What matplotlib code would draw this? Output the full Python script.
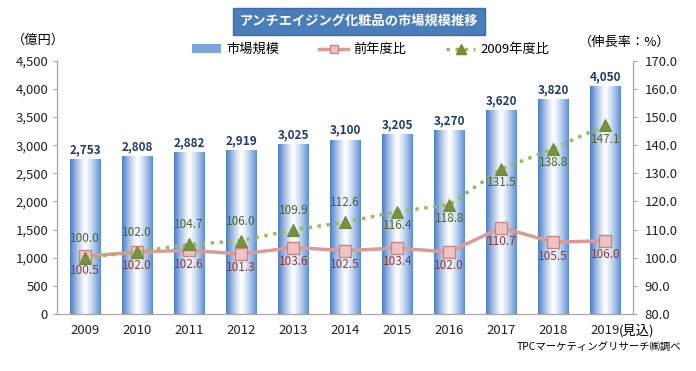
import matplotlib
matplotlib.use("Agg")
import matplotlib.pyplot as plt
from matplotlib.patches import Patch
from matplotlib.lines import Line2D
import numpy as np

plt.rcParams['font.family'] = ['Noto Sans CJK JP', 'DejaVu Sans']

# data
years = ['2009', '2010', '2011', '2012', '2013', '2014', '2015', '2016', '2017', '2018', '2019']
market = [2753, 2808, 2882, 2919, 3025, 3100, 3205, 3270, 3620, 3820, 4050]
yoy = [100.5, 102.0, 102.6, 101.3, 103.6, 102.5, 103.4, 102.0, 110.7, 105.5, 106.0]
vs2009 = [100.0, 102.0, 104.7, 106.0, 109.9, 112.6, 116.4, 118.8, 131.5, 138.8, 147.1]
# label above (True) or below (False) the green marker
vs2009_above = [True, True, True, True, True, True, False, False, False, False, False]

fig = plt.figure(figsize=(6.96, 3.71), dpi=100)
ax = fig.add_axes([0.082, 0.154, 0.828, 0.682])
x = np.arange(len(years))
w = 0.58

# gradient bars
bars = ax.bar(x, market, w, color='none', edgecolor='none', zorder=1)
edge_l = np.array([0.30, 0.50, 0.78])
edge_r = np.array([0.36, 0.56, 0.84])
white = np.array([1.0, 1.0, 1.0])
t = np.linspace(0, 1, 64)
c = 0.5
k = np.where(t < c, (c - t) / c, (t - c) / (1 - c)) ** 1.2
edge = np.where(t[:, None] < c, edge_l[None, :], edge_r[None, :])
grad = (white[None, :] * (1 - k[:, None]) + edge * k[:, None])[None, :, :]
for b in bars:
    im = ax.imshow(grad, extent=[b.get_x(), b.get_x() + b.get_width(), 0, b.get_height()],
                   aspect='auto', zorder=1, interpolation='bilinear')
    im.set_clip_path(b)
for xi, v in zip(x, market):
    ax.text(xi, v + 50, f'{v:,}', ha='center', va='bottom', fontsize=8.5,
            fontweight='bold', color='#1f3a6e')

ax.set_xlim(-0.54, len(years) - 1 + 0.54)
ax.set_ylim(0, 4500)
ax.set_yticks(range(0, 4501, 500))
ax.set_yticklabels([f'{v:,}' for v in range(0, 4501, 500)])
ax.set_xticks(x)
ax.set_xticklabels(years)
ax.annotate('(見込)', xy=(x[-1], 0), xycoords='data', xytext=(9.5, -7),
            textcoords='offset points', ha='left', va='top', fontsize=9.5,
            annotation_clip=False)

ax2 = ax.twinx()
ax2.set_ylim(80, 170)
ax2.set_yticks(np.arange(80, 171, 10))
ax2.set_yticklabels([f'{v:.1f}' for v in np.arange(80, 171, 10)])

ax2.plot(x, yoy, color='#dc9a98', lw=2.5, marker='s', ms=8, mfc='#f0c2c1',
         mec='#c98585', mew=1, zorder=3)
ax2.plot(x, vs2009, color='#9bbb59', lw=2.5, ls=(0, (1, 1.6)), marker='^', ms=9,
         mfc='#77933c', mec='#6a8a35', mew=0.8, zorder=4)
for xi, v in zip(x, yoy):
    ax2.annotate(f'{v:.1f}', (xi, v), xytext=(0, -10), textcoords='offset points',
                 ha='center', va='center', fontsize=8.5, color='#943634', zorder=5)
for xi, v, up in zip(x, vs2009, vs2009_above):
    ax2.annotate(f'{v:.1f}', (xi, v), xytext=(0, 14 if up else -10),
                 textcoords='offset points', ha='center', va='center',
                 fontsize=8.5, color='#4f6228', zorder=5)

for a in (ax, ax2):
    for s in a.spines.values():
        s.set_color('#a6a6a6')
    a.spines['top'].set_visible(False)
    a.tick_params(colors='#a6a6a6', labelcolor='#222222', labelsize=9.5, length=3)
ax.tick_params(axis='x', length=0, pad=7)
ax2.tick_params(axis='y', pad=5)

# title box
fig.text(0.516, 0.943, 'アンチエイジング化粧品の市場規模推移', ha='center', va='center',
         fontsize=9.5, fontweight='bold', color='white',
         bbox=dict(boxstyle='square,pad=0.5', fc='#4a7ebb', ec='#3b6aa6'))

handles = [Patch(facecolor='#7aa6dc', edgecolor='none'),
           Line2D([], [], color='#dc9a98', lw=2.5, marker='s', ms=6, mfc='#f0c2c1', mec='#c98585'),
           Line2D([], [], color='#9bbb59', lw=2.5, ls=(0, (1, 1.6)), marker='^', ms=7,
                  mfc='#77933c', mec='#6a8a35')]
fig.legend(handles, ['市場規模', '前年度比', '2009年度比'], loc='center', ncol=3,
           bbox_to_anchor=(0.533, 0.866), frameon=False, fontsize=9.5,
           handlelength=2.2, columnspacing=3.0, handletextpad=0.4)

fig.text(0.055, 0.892, '（億円）', ha='center', va='center', fontsize=9.5)
fig.text(0.898, 0.887, '（伸長率：%）', ha='center', va='center', fontsize=9.5)
fig.text(0.860, 0.062, 'TPCマーケティングリサーチ㈱調べ', ha='center', va='center', fontsize=7.5)

fig.savefig('out.png', dpi=100)
